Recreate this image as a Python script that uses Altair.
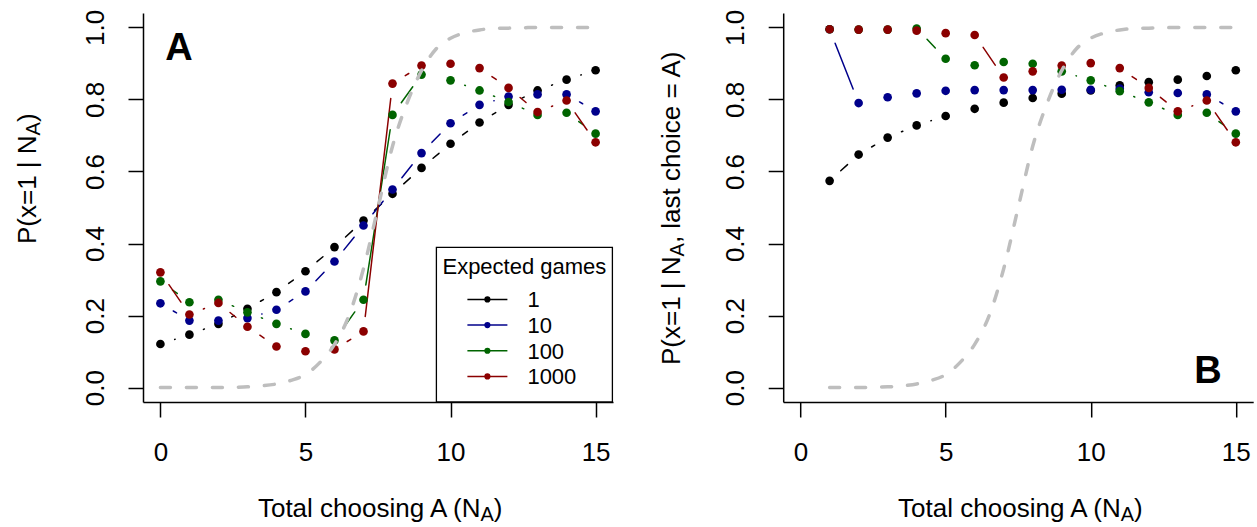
import altair as alt
import numpy as np
import pandas as pd

FONT = "Liberation Sans"

# ---------------- data ----------------
series_names = ["1", "10", "100", "1000"]
series_colors = ["#000000", "#00008B", "#006400", "#8B0000"]

# Panel A: P(x=1 | N_A)
xA = list(range(0, 16))
A_1 = [0.121, 0.147, 0.177, 0.219, 0.265, 0.323, 0.390, 0.464, 0.538, 0.610, 0.677, 0.736, 0.785, 0.825, 0.855, 0.881]
A_10 = [0.234, 0.186, 0.186, 0.193, 0.216, 0.267, 0.350, 0.450, 0.550, 0.651, 0.734, 0.785, 0.808, 0.814, 0.814, 0.767]
A_100 = [0.295, 0.237, 0.244, 0.209, 0.177, 0.149, 0.131, 0.244, 0.757, 0.869, 0.853, 0.825, 0.793, 0.757, 0.763, 0.705]
A_1000 = [0.320, 0.203, 0.235, 0.169, 0.114, 0.101, 0.106, 0.156, 0.844, 0.894, 0.899, 0.887, 0.832, 0.765, 0.797, 0.681]

# Panel B: P(x=1 | N_A, last choice = A)
xB = list(range(1, 16))
B_1 = [0.574, 0.647, 0.694, 0.728, 0.754, 0.774, 0.791, 0.804, 0.816, 0.825, 0.839, 0.848, 0.855, 0.865, 0.881]
B_10 = [0.995, 0.790, 0.806, 0.817, 0.824, 0.826, 0.826, 0.826, 0.827, 0.827, 0.830, 0.820, 0.818, 0.814, 0.767]
B_100 = [0.995, 0.994, 0.994, 0.997, 0.913, 0.895, 0.904, 0.899, 0.878, 0.853, 0.823, 0.792, 0.757, 0.763, 0.705]
B_1000 = [0.995, 0.994, 0.994, 0.991, 0.984, 0.979, 0.861, 0.878, 0.894, 0.901, 0.887, 0.832, 0.767, 0.797, 0.681]

# grey dashed reference curve
curve_x = [0, 0.5, 1, 1.5, 2, 2.5, 3, 3.5, 4, 4.5, 5, 5.5, 6, 6.5, 7, 7.5, 8, 8.5,
           9, 9.5, 10, 10.5, 11, 11.5, 12, 12.5, 13, 13.5, 14, 14.5, 15]
curve_p = [0.0, 0.0, 0.0, 0.0, 0.0, 0.001, 0.002, 0.005, 0.01, 0.02, 0.036, 0.07, 0.12, 0.2,
           0.33, 0.5, 0.67, 0.79, 0.88, 0.94, 0.97, 0.985, 0.993, 0.997, 0.998, 0.999,
           1.0, 1.0, 1.0, 1.0, 1.0]

x_ticks = [0, 5, 10, 15]
y_ticks = [0.0, 0.2, 0.4, 0.6, 0.8, 1.0]

panel_letters = ["A", "B"]
letter_x = [0.17, 13.57]
letter_p = [0.91, 0.014]

x_title = ["Total choosing A (N", "A", ")"]
yA_title = ["P(x=1 | N", "A", ")"]
yB_title = ["P(x=1 | N", "A", ", last choice = A)"]
legend_title = "Expected games"

# ---------------- layout constants ----------------
W, H = 470, 389
XDOM = [-0.6, 15.6]
YDOM = [-0.04, 1.04]
PX = W / (XDOM[1] - XDOM[0])
PY = H / (YDOM[1] - YDOM[0])
GAP = 15  # gap (px) left around points by R's type="b"


def xenc():
    return alt.X("x:Q", scale=alt.Scale(domain=XDOM, nice=False, zero=False),
                 axis=alt.Axis(values=x_ticks, format="d", title=None, labelPadding=43.6,
                               labelBaseline="alphabetic", labelFlush=False, tickSize=15))


def yenc():
    return alt.Y("p:Q", scale=alt.Scale(domain=YDOM, nice=False, zero=False),
                 axis=alt.Axis(values=y_ticks, format=".1f", title=None, labelAngle=270,
                               labelAlign="center", labelBaseline="alphabetic",
                               labelPadding=25, tickSize=15, labelFlush=False))


def long_points(xs, cols):
    rows = []
    for k, (name, vals) in enumerate(zip(series_names, cols)):
        for x, v in zip(xs, vals):
            rows.append({"x": x, "p": v, "series": name, "k": k})
    return pd.DataFrame(rows)


def gap_segments(xs, cols):
    rows = []
    for k, (name, vals) in enumerate(zip(series_names, cols)):
        for i in range(len(xs) - 1):
            x0, y0, x1, y1 = xs[i], vals[i], xs[i + 1], vals[i + 1]
            L = float(np.hypot((x1 - x0) * PX, (y1 - y0) * PY))
            if L > 2 * GAP:
                f = GAP / L
                rows.append({"x": x0 + f * (x1 - x0), "p": y0 + f * (y1 - y0),
                             "x2": x1 - f * (x1 - x0), "p2": y1 - f * (y1 - y0),
                             "series": name, "k": k})
    return pd.DataFrame(rows)


CSCALE = alt.Scale(domain=series_names, range=series_colors)


def text_piece(txt, px, py, size, align, angle=0):
    return alt.Chart(pd.DataFrame({"t": [txt]})).mark_text(
        font=FONT, fontSize=size, color="black", align=align, baseline="alphabetic",
        angle=angle).encode(x=alt.value(px), y=alt.value(py), text="t:N")


def legend_layer():
    # box placed at the lower right corner of panel A, entries through a point scale
    box = alt.Chart(pd.DataFrame({"t": [legend_title]})).mark_rect(
        fill="white", stroke="black", strokeWidth=1.3).encode(
        x=alt.value(293.4), x2=alt.value(469.4), y=alt.value(234.4), y2=alt.value(389))
    title = text_piece(legend_title, 381.4, 260.7, 22, "center")
    ent = pd.DataFrame({"series": series_names})
    ey = alt.Y("series:N", scale=alt.Scale(type="point", domain=series_names,
                                           range=[286.4, 363.4], padding=0), axis=None)
    ecol = alt.Color("series:N", scale=CSCALE, legend=None)
    lines = alt.Chart(ent).mark_rule(strokeWidth=1.5).encode(
        x=alt.value(324.4), x2=alt.value(364.4), y=ey, color=ecol)
    dots = alt.Chart(ent).mark_circle(size=38, opacity=1).encode(
        x=alt.value(344.4), y=ey, color=ecol)
    labels = alt.Chart(ent).mark_text(font=FONT, fontSize=22, color="black", align="left",
                                      baseline="alphabetic", dy=7.9).encode(
        x=alt.value(384.4), y=ey, text="series:N")
    return alt.layer(box, title, lines, dots, labels)


def panel(xs, cols, cstart, idx, with_legend, ytitle, ybase_x, ystart):
    pts = long_points(xs, cols)
    segs = gap_segments(xs, cols)
    cdf = pd.DataFrame({"x": curve_x, "p": curve_p})
    cdf = cdf[cdf["x"] >= cstart]

    col = alt.Color("series:N", scale=CSCALE, legend=None)
    rules = alt.Chart(segs).mark_rule(strokeWidth=1.5, strokeCap="round").encode(
        x=xenc(), x2="x2:Q", y=yenc(), y2="p2:Q", color=col)

    points = alt.Chart(pts).mark_circle(size=75, opacity=1).encode(
        x=xenc(), y=yenc(), color=col, order="k:Q")

    curve = alt.Chart(cdf).mark_line(color="#BEBEBE", strokeWidth=3.5, strokeDash=[10, 16],
                                     strokeCap="round", interpolate="monotone").encode(
        x=xenc(), y=yenc())

    ldf = pd.DataFrame({"x": [letter_x[idx]], "p": [letter_p[idx]], "t": [panel_letters[idx]]})
    letter = alt.Chart(ldf).mark_text(font=FONT, fontSize=38, fontWeight="bold", color="black",
                                      align="left", baseline="alphabetic").encode(
        x=xenc(), y=yenc(), text="t:N")

    # x-axis title with subscript
    xr = 337.5
    xt = [
        text_piece(x_title[0], xr, 504.4, 26, "right"),
        text_piece(x_title[1], xr, 508.4, 20, "left"),
        text_piece(x_title[2], xr + 13.3, 504.4, 26, "left"),
    ]
    # y-axis title (rotated) with subscript
    y1 = ystart - 108.6
    y2 = y1 - 13.3
    yt = [
        text_piece(ytitle[0], ybase_x, ystart, 26, "left", 270),
        text_piece(ytitle[1], ybase_x + 4, y1, 20, "left", 270),
        text_piece(ytitle[2], ybase_x, y2, 26, "left", 270),
    ]
    main = alt.layer(rules, points, curve, letter, *xt, *yt)
    if with_legend:
        out = alt.layer(main, legend_layer()).resolve_scale(y="independent")
    else:
        out = main
    return out.properties(width=W, height=H)


pA = panel(xA, [A_1, A_10, A_100, A_1000], 0, 0, True, yA_title, -106.6, 231)
pB = panel(xB, [B_1, B_10, B_100, B_1000], 1, 1, False, yB_title, -103.6, 352)

chart = alt.hconcat(pA, pB, spacing=170.2, bounds="flush").properties(
    padding={"left": 15, "top": 9, "right": 0, "bottom": 0}
).configure_view(strokeWidth=0).configure_axis(
    domainColor="black", domainWidth=1.5, tickColor="black", tickWidth=1.5,
    labelFont=FONT, labelFontSize=26, labelColor="black", grid=False
)

chart.save("out.html", embed_options={"renderer": "svg", "actions": False})
